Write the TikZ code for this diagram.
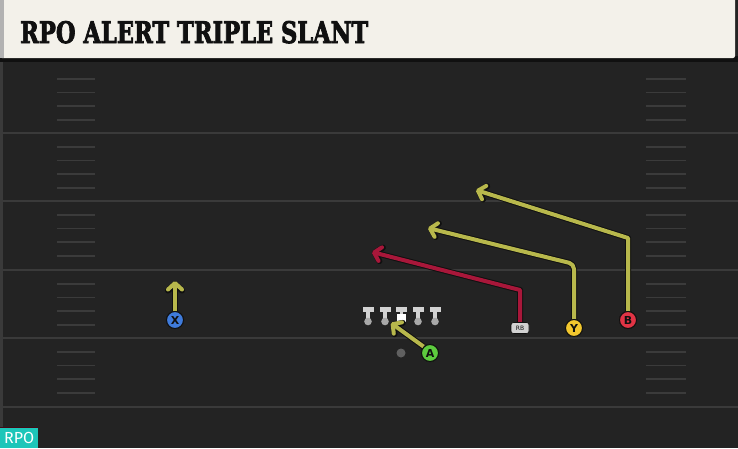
\documentclass[tikz,border=0pt]{standalone}
\usepackage{fontspec}
\usepackage{graphicx}
\usetikzlibrary{arrows.meta}
\newfontfamily\titlefont{DejaVu Serif}[BoldFeatures={FakeBold=3}]
\newfontfamily\labfont{DejaVu Sans}
\newfontfamily\badgefont{Fira Sans}
\definecolor{field}{HTML}{232323}
\definecolor{yardline}{HTML}{3A3A3A}
\definecolor{hash}{HTML}{3B3B3B}
\definecolor{cream}{HTML}{F3F1EA}
\definecolor{yroute}{HTML}{B8B84C}
\definecolor{rroute}{HTML}{A8173A}
\definecolor{xblue}{HTML}{3F7BDB}
\definecolor{agreen}{HTML}{5DCB3E}
\definecolor{yyellow}{HTML}{F2C72E}
\definecolor{bred}{HTML}{E23445}
\definecolor{lineman}{HTML}{D2D2D2}
\definecolor{badge}{HTML}{1DC6B9}
\definecolor{outl}{HTML}{101010}
\tikzset{
  player/.style={circle, draw=outl, line width=1pt, minimum size=17pt, inner sep=0pt,
    font=\labfont\bfseries\fontsize{11}{11}\selectfont, text=outl},
  rbnode/.style={rounded corners=2.5pt, fill=lineman, draw=outl, line width=0.6pt,
    minimum width=18pt, minimum height=11pt, inner sep=0pt,
    font=\labfont\fontsize{6}{6}\selectfont, text=outl},
  tip/.style={-{Straight Barb[round,length=6.5pt,width=14pt]}},
  routeout/.style={tip, draw=outl, line width=6pt, line join=round},
  routein/.style={tip, line width=4pt, line join=round},
  yardl/.style={draw=yardline, line width=2pt},
  hashl/.style={draw=hash, line width=1.6pt}
}
\newcommand{\routepath}[2]{\draw[routeout] #2; \draw[routein, draw=#1] #2;}
\begin{document}
\begin{tikzpicture}[x=1pt,y=-1pt]
\useasboundingbox (0,0) rectangle (738,448);
% field
\fill[field] (0,0) rectangle (738,448);
\fill[yardline] (0,60) rectangle (2.5,448);
\foreach \y in {133,201,270,338,407} {
  \draw[yardl] (0,\y) -- (738,\y);
}
\foreach \y in {65,133,201,270,338} {
  \foreach \k in {1,2,3,4} {
    \draw[hashl] (57,{\y+13.7*\k}) -- (95,{\y+13.7*\k});
    \draw[hashl] (646,{\y+13.7*\k}) -- (686,{\y+13.7*\k});
  }
}
% header
\fill[outl] (0,56) rectangle (738,62);
\fill[cream, rounded corners=2pt] (0,-5) rectangle (735,58);
\fill[gray!60] (0,0) rectangle (4,58);
\node[anchor=base west, inner sep=0pt, text=outl] (title) at (20,43)
  {\resizebox{348pt}{22pt}{\titlefont\bfseries RPO ALERT TRIPLE SLANT}};
% line
\foreach \x in {368,385,401.5,418,435} {
  \fill[lineman] (\x-5.5,306.5) rectangle (\x+5.5,311.5);
  \fill[lineman] (\x-1.8,311) rectangle (\x+1.8,319);
  \fill[lineman!80!black] (\x,321.5) circle (3.8);
}
\node[fill=white, minimum size=8.5pt, inner sep=0pt] (C) at (401.5,318) {};
\node[circle, fill=gray!75!black, minimum size=9pt, inner sep=0pt] (QB) at (401,353) {};
% players
\node[player, fill=xblue] (X) at (175,320) {X};
\node[player, fill=agreen] (A) at (430,353) {A};
\node[rbnode] (RB) at (520,328) {RB};
\node[player, fill=yyellow] (Y) at (574,328) {Y};
\node[player, fill=bred] (B) at (628,320) {B};
% route ends
\coordinate (Xt) at (175,281);
\coordinate (At) at (391,323);
\coordinate (RBc) at (520,290);
\coordinate (RBt) at (372,252);
\coordinate (Yc) at (574,264);
\coordinate (Yt) at (428,228);
\coordinate (Bc) at (628,238);
\coordinate (Bt) at (476,190);
% routes
\routepath{yroute}{(X.north) -- (Xt)}
\routepath{yroute}{(A.north west) -- (At)}
\routepath{rroute}{(RB.north) -- (RBc) -- (RBt)}
\draw[routeout, rounded corners=5pt] (Y.north) -- (Yc) -- (Yt);
\draw[routein, draw=yroute, rounded corners=5pt] (Y.north) -- (Yc) -- (Yt);
\routepath{yroute}{(B.north) -- (Bc) -- (Bt)}
% redraw players on top
\node[player, fill=xblue] at (X) {X};
\node[player, fill=agreen] at (A) {A};
\node[rbnode] at (RB) {RB};
\node[player, fill=yyellow] at (Y) {Y};
\node[player, fill=bred] at (B) {B};
% badge
\fill[rroute!40!black] (0,426.5) rectangle (38,428);
\node[fill=badge, anchor=south west, minimum width=38pt, minimum height=20pt, inner sep=0pt,
  text=white, font=\badgefont\fontsize{16}{16}\selectfont] (rpo) at (0,448) {RPO};
\end{tikzpicture}
\end{document}
